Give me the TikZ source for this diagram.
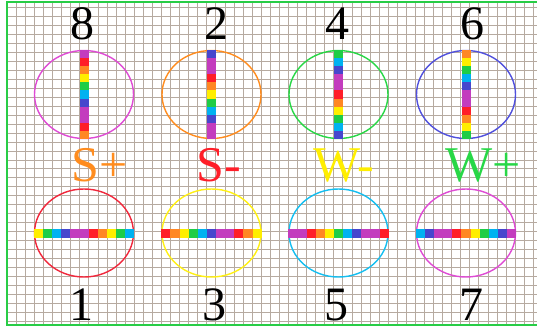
\documentclass[tikz,border=0pt]{standalone}
\usepackage{fontspec}
\setmainfont{Liberation Serif}
\usepackage{tikz}
\usetikzlibrary{calc,shapes.geometric}

\definecolor{bar0}{RGB}{255,30,40}
\definecolor{bar1}{RGB}{255,135,35}
\definecolor{bar2}{RGB}{255,238,0}
\definecolor{bar3}{RGB}{30,205,70}
\definecolor{bar4}{RGB}{0,178,240}
\definecolor{bar5}{RGB}{70,70,205}
\definecolor{bar6}{RGB}{195,60,190}
\definecolor{bar7}{RGB}{195,60,190}
\definecolor{paperline}{RGB}{182,170,160}
\definecolor{frameline}{RGB}{40,205,70}
\definecolor{ringmag}{RGB}{222,75,212}
\definecolor{ringora}{RGB}{255,140,30}
\definecolor{ringgre}{RGB}{40,215,70}
\definecolor{ringblu}{RGB}{80,80,220}
\definecolor{ringred}{RGB}{240,40,60}
\definecolor{ringyel}{RGB}{255,240,20}
\definecolor{ringcya}{RGB}{20,190,240}

\tikzset{
    ring/.style={ellipse, draw=#1, line width=1.4pt, minimum width=99pt, minimum height=88pt, inner sep=0pt},
    num/.style={font=\fontsize{48}{48}\selectfont, inner sep=0pt},
    tag/.style={font=\fontsize{50}{50}\selectfont, text=#1, inner sep=0pt, anchor=base}
}

% vertical / horizontal colour bar through an ellipse, #2 = first colour
\newcommand{\rainbowv}[2]{%
    \foreach \i in {0,...,10}{%
        \pgfmathtruncatemacro{\k}{mod(#2+\i,8)}%
        \pgfmathsetmacro{\j}{\i+1}%
        \fill[bar\k] ($(#1.north)!\i/11!(#1.south)+(-4.5,0)$) rectangle ($(#1.north)!\j/11!(#1.south)+(4.5,0)$);
    }}
\newcommand{\rainbowh}[2]{%
    \foreach \i in {0,...,10}{%
        \pgfmathtruncatemacro{\k}{mod(#2+\i,8)}%
        \pgfmathsetmacro{\j}{\i+1}%
        \fill[bar\k] ($(#1.west)!\i/11!(#1.east)+(0,-4.5)$) rectangle ($(#1.west)!\j/11!(#1.east)+(0,4.5)$);
    }}

\begin{document}
\begin{tikzpicture}[x=1pt, y=-1pt]
                \useasboundingbox (0,0) rectangle (537,330);
                % squared paper
                \foreach \gx in {7.3,16.37,...,537} \draw[paperline, line width=0.9pt] (\gx,2) -- (\gx,325);
                \foreach \gy in {7.3,16.28,...,324} \draw[paperline, line width=0.9pt] (7,\gy) -- (537,\gy);
                \draw[frameline, line width=1.3pt] (537,2) -- (7,2) -- (7,325) -- (537,325);
                % upper row
                \node[ring=ringmag] (e8) at (84,94.5) {};
                \node[ring=ringora] (e2) at (211.5,94.5) {};
                \node[ring=ringgre] (e4) at (338.5,94.5) {};
                \node[ring=ringblu] (e6) at (466,94.5) {};
                \rainbowv{e8}{7}
                \rainbowv{e2}{5}
                \rainbowv{e4}{3}
                \rainbowv{e6}{1}
                % lower row
                \node[ring=ringred] (e1) at (84,233) {};
                \node[ring=ringyel] (e3) at (211.5,233) {};
                \node[ring=ringcya] (e5) at (338.5,233) {};
                \node[ring=ringmag] (e7) at (466,233) {};
                \rainbowh{e1}{2}
                \rainbowh{e3}{0}
                \rainbowh{e5}{6}
                \rainbowh{e7}{4}
                % numbers
                \draw (82.5,23.5) node[num] (n8) {8};
                \draw (216,23.5) node[num] (n2) {2};
                \draw (337.5,23.5) node[num] (n4) {4};
                \draw (472,23.5) node[num] (n6) {6};
                \draw (81.5,305) node[num] (n1) {1};
                \draw (214.5,305) node[num] (n3) {3};
                \draw (336.5,305) node[num] (n5) {5};
                \draw (471,305) node[num] (n7) {7};
                % labels
                \draw (100,181) node[tag=ringora] (splus) {S+};
                \draw (219,181) node[tag=bar0] (sminus) {S-};
                \draw (344,181) node[tag=bar2] (wminus) {W-};
                \draw (483,181) node[tag=ringgre] (wplus) {W+};
            \end{tikzpicture}
\end{document}
